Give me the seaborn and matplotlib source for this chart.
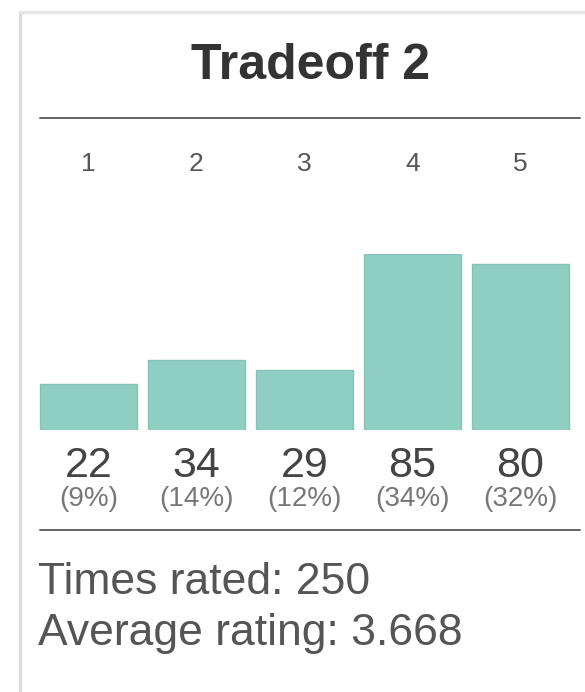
import matplotlib
matplotlib.use("Agg")
import matplotlib.pyplot as plt
from matplotlib.lines import Line2D
import seaborn as sns
import pandas as pd

categories = ["1", "2", "3", "4", "5"]
counts = [22, 34, 29, 85, 80]
percents = ["(9%)", "(14%)", "(12%)", "(34%)", "(32%)"]
title = "Tradeoff 2"
times_rated = 250
average_rating = 3.668

sns.set_theme(style="white")
plt.rcParams["font.family"] = ["Liberation Sans", "DejaVu Sans"]

W, H = 585, 692
fig = plt.figure(figsize=(W / 100, H / 100), dpi=100)
fig.patch.set_facecolor("white")

def fx(px):
    return px / W

def fy(py):
    return 1 - py / H

# panel border
fig.add_artist(Line2D([fx(20), fx(20)], [fy(12), fy(692)], color="#dcdcdc", lw=2.5))
fig.add_artist(Line2D([fx(20), fx(585)], [fy(12), fy(12)], color="#e6e6e6", lw=2.5))

# title and separator
fig.text(fx(311), fy(66), title, ha="center", va="center", fontsize=36,
         fontweight="bold", color="#333333")
fig.add_artist(Line2D([fx(40), fx(580)], [fy(118), fy(118)], color="#555555", lw=1.3))

# bar axes
left, right = 34.5, 574.5
bottom, top = 430, 254
ax = fig.add_axes([fx(left), fy(bottom), fx(right - left), (bottom - top) / H])
df = pd.DataFrame({"rating": categories, "count": counts})
sns.barplot(data=df, x="rating", y="count", order=categories, color="#8fcfc1",
            saturation=1, width=0.9, edgecolor="#84c3b5", linewidth=1, ax=ax)
ax.set_xlim(-0.5, len(categories) - 0.5)
ax.set_ylim(0, max(counts))
ax.set_axis_off()

for i, (cat, c, p) in enumerate(zip(categories, counts, percents)):
    ax.annotate(cat, xy=(i, 1), xycoords=("data", "axes fraction"),
                xytext=(0, 65), textcoords="offset points", ha="center", va="center",
                fontsize=19, color="#555555", annotation_clip=False)
    ax.annotate(str(c), xy=(i, 0), xycoords=("data", "axes fraction"),
                xytext=(0, -26), textcoords="offset points", ha="center", va="center",
                fontsize=31, color="#444444", annotation_clip=False)
    ax.annotate(p, xy=(i, 0), xycoords=("data", "axes fraction"),
                xytext=(0, -50), textcoords="offset points", ha="center", va="center",
                fontsize=20, color="#777777", annotation_clip=False)

fig.add_artist(Line2D([fx(40), fx(580)], [fy(530), fy(530)], color="#555555", lw=1.3))

fig.text(fx(38), fy(583), f"Times rated: {times_rated}", ha="left", va="center",
         fontsize=32, color="#555555")
fig.text(fx(38), fy(633), f"Average rating: {average_rating}", ha="left", va="center",
         fontsize=32, color="#555555")

fig.savefig("out.png", dpi=100)
